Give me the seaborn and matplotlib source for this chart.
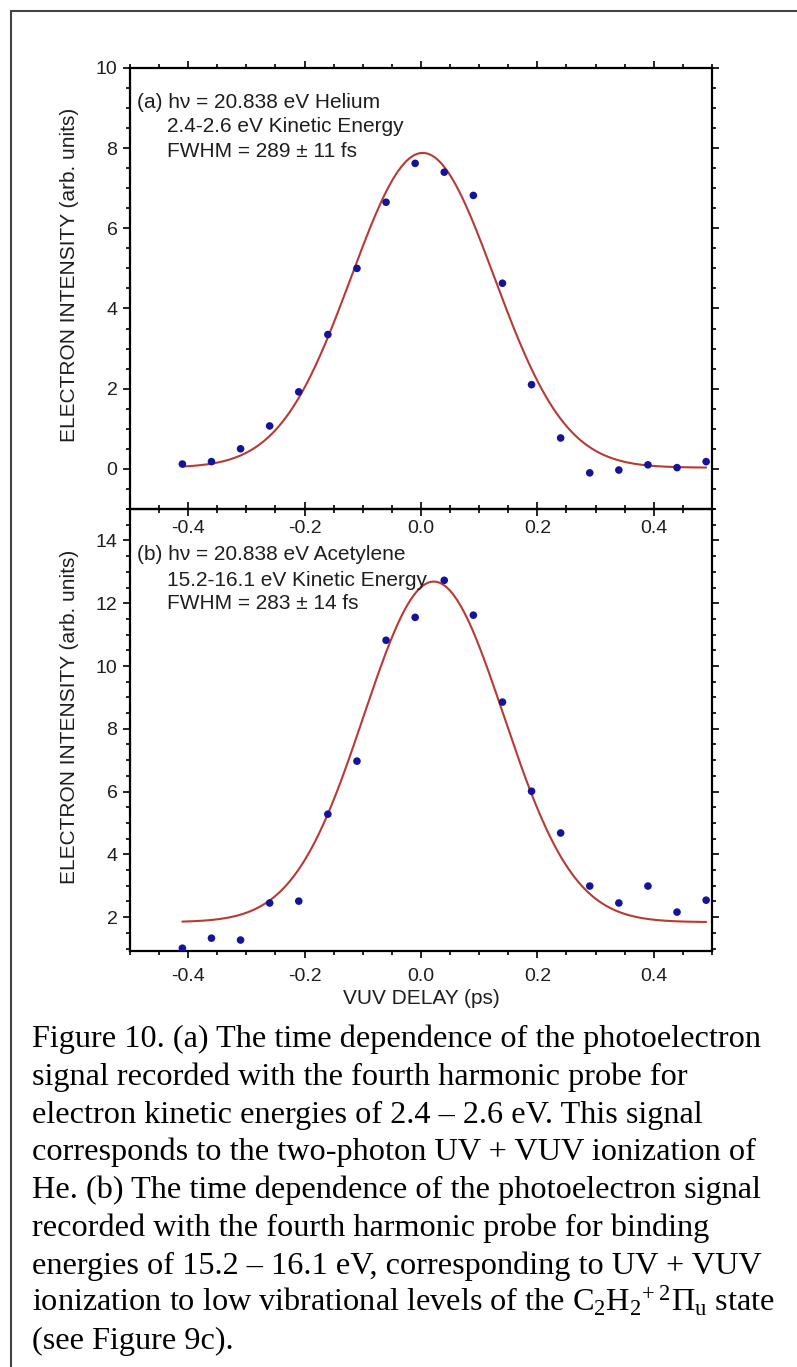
import numpy as np
import pandas as pd
import matplotlib
matplotlib.use("Agg")
import matplotlib.pyplot as plt
from matplotlib.ticker import MultipleLocator
from matplotlib.lines import Line2D
import seaborn as sns

# ---- measured data -------------------------------------------------------
delay_ps = [-0.41, -0.36, -0.31, -0.26, -0.21, -0.16, -0.11, -0.06, -0.01, 0.04,
            0.09, 0.14, 0.19, 0.24, 0.29, 0.34, 0.39, 0.44, 0.49]

helium_signal = [0.12, 0.18, 0.50, 1.07, 1.92, 3.35, 5.00, 6.65, 7.62, 7.40,
                 6.82, 4.63, 2.10, 0.77, -0.10, -0.03, 0.10, 0.03, 0.18]

acetylene_signal = [1.01, 1.33, 1.27, 2.45, 2.51, 5.28, 6.97, 10.82, 11.55, 12.73,
                    11.62, 8.85, 6.01, 4.68, 2.99, 2.45, 2.99, 2.16, 2.54]

# ---- Gaussian fit parameters (FWHM in ps) --------------------------------
helium_fit = dict(center=0.003, amplitude=7.85, offset=0.03, fwhm=0.289)
acetylene_fit = dict(center=0.022, amplitude=10.85, offset=1.84, fwhm=0.283)

panel_text_a = ["(a) h\u03bd = 20.838 eV Helium",
                "2.4-2.6 eV Kinetic Energy",
                "FWHM = 289 \u00b1 11 fs"]
panel_text_b = ["(b) h\u03bd = 20.838 eV Acetylene",
                "15.2-16.1 eV Kinetic Energy",
                "FWHM = 283 \u00b1 14 fs"]

caption_lines = [
    "Figure 10. (a) The time dependence of the photoelectron",
    "signal recorded with the fourth harmonic probe for",
    "electron kinetic energies of 2.4 \u2013 2.6 eV. This signal",
    "corresponds to the two-photon UV + VUV ionization of",
    "He. (b) The time dependence of the photoelectron signal",
    "recorded with the fourth harmonic probe for binding",
    "energies of 15.2 \u2013 16.1 eV, corresponding to UV + VUV",
    "ionization to low vibrational levels of the C$_2$H$_2$$^{+\\;2}$\u03a0$_\\mathrm{u}$ state",
    "(see Figure 9c).",
]

# ---- style ---------------------------------------------------------------
sns.set_theme(style="ticks")
plt.rcParams["font.family"] = ["Liberation Sans", "DejaVu Sans"]
plt.rcParams["axes.unicode_minus"] = False
plt.rcParams["mathtext.fontset"] = "custom"
plt.rcParams["mathtext.rm"] = "Liberation Serif"
plt.rcParams["mathtext.it"] = "Liberation Serif:italic"

POINT_COLOR = "#14149a"
FIT_COLOR = "#b83a34"
TEXT_COLOR = "#1e1e1e"
TICK_FS = 14
LABEL_FS = 15


def gaussian_curve(params, x):
    sigma = params["fwhm"] / (2.0 * np.sqrt(2.0 * np.log(2.0)))
    return params["offset"] + params["amplitude"] * np.exp(
        -((x - params["center"]) ** 2) / (2.0 * sigma ** 2))


fig = plt.figure(figsize=(7.97, 13.67), dpi=100)
fig.patch.set_facecolor("white")

ax_a = fig.add_axes([0.1631, 0.6277, 0.7302, 0.3226])
ax_b = fig.add_axes([0.1631, 0.3043, 0.7302, 0.3233])


def draw_panel(ax, signal, fit, ylim, texts, text_y, xpad):
    ax.set_facecolor("none")
    xs = np.linspace(delay_ps[0], delay_ps[-1], 300)
    fit_df = pd.DataFrame({"delay": xs, "fit": gaussian_curve(fit, xs)})
    pts_df = pd.DataFrame({"delay": delay_ps, "signal": signal})
    sns.lineplot(data=fit_df, x="delay", y="fit", ax=ax, color=FIT_COLOR,
                 linewidth=1.5, zorder=2)
    sns.scatterplot(data=pts_df, x="delay", y="signal", ax=ax, color=POINT_COLOR,
                    s=30, edgecolor="none", zorder=3)
    ax.set_xlim(-0.5, 0.5)
    ax.set_ylim(*ylim)
    ax.xaxis.set_major_locator(MultipleLocator(0.2))
    ax.xaxis.set_minor_locator(MultipleLocator(0.05))
    ax.yaxis.set_major_locator(MultipleLocator(2))
    ax.yaxis.set_minor_locator(MultipleLocator(0.5))
    ax.tick_params(which="both", direction="out", top=True, right=True,
                   labeltop=False, labelright=False, color="black",
                   labelcolor=TEXT_COLOR, labelsize=TICK_FS, width=1.2)
    ax.tick_params(which="major", length=5)
    ax.tick_params(axis="x", which="major", pad=xpad)
    ax.tick_params(axis="y", which="major", pad=4)
    ax.tick_params(which="minor", length=3)
    for sp in ax.spines.values():
        sp.set_visible(True)
        sp.set_linewidth(1.6)
        sp.set_color("black")
    ax.set_xlabel("")
    ax.set_ylabel("ELECTRON INTENSITY (arb. units)", fontsize=LABEL_FS,
                  color=TEXT_COLOR)
    ax.yaxis.set_label_coords(-0.088, 0.53)
    xs_text = [0.012, 0.064, 0.064]
    for t, x, y in zip(texts, xs_text, text_y):
        ax.text(x, y, t, transform=ax.transAxes, fontsize=LABEL_FS,
                color=TEXT_COLOR, va="baseline", ha="left")


draw_panel(ax_a, helium_signal, helium_fit, (-1.0, 10.0), panel_text_a,
           [0.909, 0.855, 0.798], xpad=3)
draw_panel(ax_b, acetylene_signal, acetylene_fit, (0.92, 15.0), panel_text_b,
           [0.885, 0.826, 0.774], xpad=7)
ax_b.set_xlabel("VUV DELAY (ps)", fontsize=LABEL_FS, color=TEXT_COLOR, labelpad=3)

# outer frame (top and left rules)
frame_kw = dict(color="#444444", linewidth=1.5, transform=fig.transFigure)
x0 = 11 / 797
y0 = 1 - 11 / 1367
fig.add_artist(Line2D([x0, 1.0], [y0, y0], **frame_kw))
fig.add_artist(Line2D([x0, x0], [0.0, y0], **frame_kw))

# caption
for i, line in enumerate(caption_lines):
    yb = 1 - (1047 + 37.8 * i) / 1367
    fig.text(32 / 797, yb, line, fontsize=23.2, family="Liberation Serif",
             color="black", va="baseline", ha="left")

fig.savefig("out.png", dpi=100, facecolor="white")
